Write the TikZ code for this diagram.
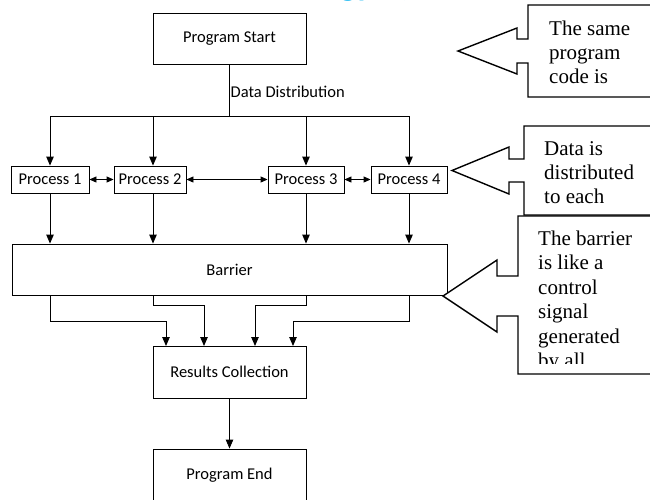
\documentclass[tikz,border=0pt]{standalone}
\usepackage{fontspec}
\setmainfont{Liberation Serif}
\newfontfamily\calib{Carlito}
\usetikzlibrary{arrows.meta}
\definecolor{titleblue}{RGB}{0,176,240}
\begin{document}
\begin{tikzpicture}[x=1pt,y=-1pt,
  box/.style={draw,line width=0.9pt,rectangle,inner sep=0pt,font=\calib\fontsize{16.5}{20}\selectfont},
  arr/.style={line width=0.9pt,-{Triangle[length=9pt,width=7.5pt]}},
  darr/.style={line width=0.9pt,{Triangle[length=7pt,width=6pt]}-{Triangle[length=7pt,width=6pt]}},
  ln/.style={line width=0.9pt},
  callout/.style={draw,line width=1.4pt,line join=miter},
  ctext/.style={anchor=base west,inner sep=0pt,font=\fontsize{21}{24}\selectfont},
  ttext/.style={anchor=base west,inner sep=0pt,text=titleblue,font=\calib\bfseries\fontsize{34}{40}\selectfont}]
\useasboundingbox (0,0) rectangle (650,499);
\clip (0,0) rectangle (650,499);
\fill[white] (0,0) rectangle (650,499);

% cut-off title fragments
\node[ttext] (t1) at (340,-4.5) {gy};
\node[ttext] (t2) at (398,-4.5) {(};
\node[ttext] (t3) at (586,-4.5) {)};

% main boxes
\node[box,minimum width=153pt,minimum height=51pt] (start) at (229.5,38.5) {Program Start};
\node[box,minimum width=78pt,minimum height=27pt] (p1) at (50,179.5) {Process 1};
\node[box,minimum width=72pt,minimum height=27pt] (p2) at (150,179.5) {Process 2};
\node[box,minimum width=76pt,minimum height=27pt] (p3) at (306,179.5) {Process 3};
\node[box,minimum width=76pt,minimum height=27pt] (p4) at (409,179.5) {Process 4};
\node[box,minimum width=435pt,minimum height=51pt] (bar) at (229.5,269.5) {Barrier};
\node[box,minimum width=153pt,minimum height=52pt] (res) at (229.5,372) {Results Collection};
\node[box,minimum width=153pt,minimum height=52pt] (end) at (229.5,475) {Program End};

% distribution bus
\coordinate (bc) at (229.5,116);
\coordinate (b1) at (50,116);
\coordinate (b2) at (153,116);
\coordinate (b3) at (306,116);
\coordinate (b4) at (409,116);
\draw[ln] (start.south) -- (bc);
\draw[ln] (b1) -- (b4);
\node[anchor=west,inner sep=1pt,font=\calib\fontsize{16.5}{20}\selectfont] (dd) at (229.5,92) {Data Distribution};
\draw[arr] (b1) -- (p1.north);
\draw[arr] (b2) -- (b2 |- p2.north);
\draw[arr] (b3) -- (p3.north);
\draw[arr] (b4) -- (p4.north);

% exchanges
\draw[darr] (p1.east) -- (p2.west);
\draw[darr] (p2.east) -- (p3.west);
\draw[darr] (p3.east) -- (p4.west);

% to barrier
\draw[arr] (p1.south) -- (p1.south |- bar.north);
\draw[arr] (b2 |- p2.south) -- (b2 |- bar.north);
\draw[arr] (p3.south) -- (p3.south |- bar.north);
\draw[arr] (p4.south) -- (p4.south |- bar.north);

% collection
\coordinate (r1) at (166,346);
\coordinate (r2) at (204,346);
\coordinate (r3) at (255,346);
\coordinate (r4) at (293,346);
\draw[arr] (50,295) |- (166,321) -- (r1);
\draw[arr] (153,295) |- (204,305) -- (r2);
\draw[arr] (306,295) |- (255,305) -- (r3);
\draw[arr] (409,295) |- (293,321) -- (r4);
\draw[arr] (res.south) -- (end.north);

% callouts
\draw[callout,fill=white] (660,5) -- (528,5) -- (528,39) -- (517,39) -- (517,28) -- (458,51)
  -- (517,74) -- (517,63) -- (528,63) -- (528,97) -- (660,97);
\draw[callout,fill=white] (660,126) -- (524,126) -- (524,159) -- (509,159) -- (509,147) -- (452,170.5)
  -- (509,194) -- (509,182) -- (524,182) -- (524,215) -- (660,215);
\draw[callout,fill=white] (660,216) -- (518,216) -- (518,276) -- (497,276) -- (497,260) -- (443,296)
  -- (497,332) -- (497,316) -- (518,316) -- (518,374) -- (660,374);

\node[ctext] (a1) at (549,35) {The same};
\node[ctext] (a2) at (549,59.5) {program};
\node[ctext] (a3) at (549,83) {code is};

\node[ctext] (d1) at (544,155) {Data is};
\node[ctext] (d2) at (544,179.5) {distributed};
\node[ctext] (d3) at (544,203) {to each};

\begin{scope}
\clip (530,218) rectangle (650,363);
\node[ctext] (e1) at (538,245) {The barrier};
\node[ctext] (e2) at (538,269.5) {is like a};
\node[ctext] (e3) at (538,294) {control};
\node[ctext] (e4) at (538,318.5) {signal};
\node[ctext] (e5) at (538,343) {generated};
\node[ctext] (e6) at (538,367.5) {by all};
\end{scope}
\end{tikzpicture}
\end{document}
